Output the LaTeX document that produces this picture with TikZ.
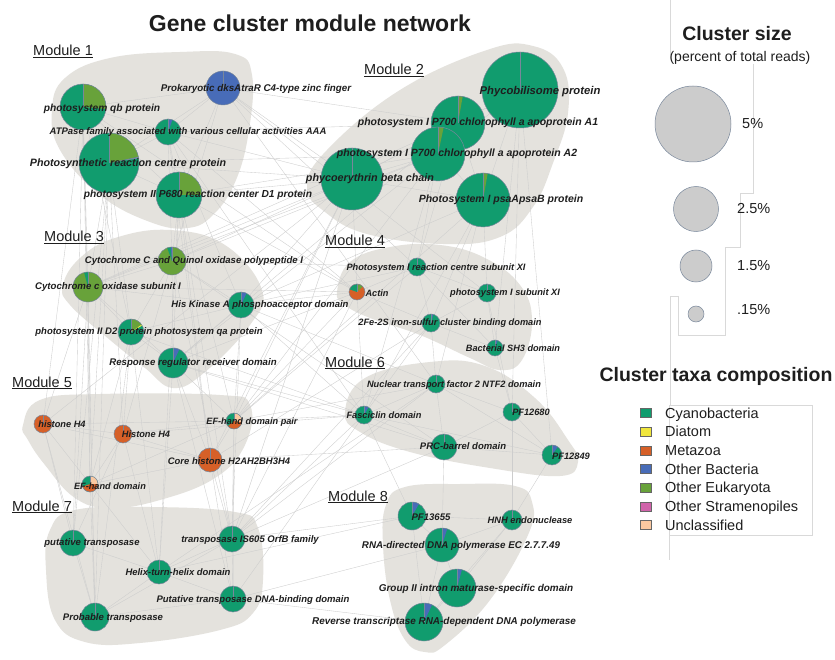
\documentclass[tikz,border=0pt]{standalone}
\usepackage{fontspec}
\setmainfont{Liberation Sans}
\definecolor{cy}{RGB}{17,156,110}
\definecolor{di}{RGB}{240,230,60}
\definecolor{me}{RGB}{214,96,40}
\definecolor{ob}{RGB}{72,108,184}
\definecolor{oe}{RGB}{104,162,58}
\definecolor{os}{RGB}{208,100,170}
\definecolor{un}{RGB}{250,200,160}
\definecolor{blobc}{RGB}{228,226,221}
\definecolor{slate}{RGB}{120,135,155}
\definecolor{edgec}{RGB}{205,205,205}
\definecolor{txt}{RGB}{30,30,30}
\pgfdeclarelayer{blob}
\pgfdeclarelayer{edges}
\pgfdeclarelayer{top}
\pgfsetlayers{blob,edges,main,top}
\tikzset{
  piebase/.style={circle,inner sep=0pt,outer sep=0pt,draw=none},
  pieedge/.style={draw=slate,line width=0.5pt},
  lbl/.style={inner sep=0pt,anchor=base,text=txt},
  netedge/.style={draw=edgec,line width=0.35pt},
  blobfill/.style={fill=blobc},
  modlbl/.style={inner sep=0pt,anchor=base west,text=txt,font=\fontsize{14.5}{16}\selectfont},
  szc/.style={circle,inner sep=0pt,fill=black!20,draw=slate,line width=0.5pt},
  sq/.style={inner sep=0pt,minimum width=11pt,minimum height=9pt,draw=black!60,line width=0.5pt},
  leglbl/.style={inner sep=0pt,anchor=base west,text=txt,font=\fontsize{14.5}{16}\selectfont},
  faint/.style={draw=black!15,line width=0.4pt}
}
\newcommand\pnode[9]{%
  \node[piebase,minimum size=#4*2pt,fill=#5] (#1) at (#2,#3) {};
  \foreach \ps/\pe/\pc in {#6} {\fill[fill=\pc] (#1.center) -- ++({90-\ps}:#4pt) arc[start angle={90-\ps},end angle={90-\pe},radius=#4pt] -- cycle;}
  \draw[pieedge] (#1.center) -- ++(90:#4pt);
  \draw[pieedge] (#1.center) circle[radius=#4pt];
  \pgfmathsetmacro\lblfs{8.6+0.07*#4}
  \begin{pgfonlayer}{top}
  \node[lbl,font=\bfseries\itshape\fontsize{\lblfs}{\lblfs}\selectfont] (#1l) at (#7,{#8+0.36*\lblfs}) {#9};
  \end{pgfonlayer}
}
\begin{document}
\begin{tikzpicture}[x=1pt,y=-1pt]
\useasboundingbox (0,0) rectangle (835,660);
\begin{pgfonlayer}{blob}
\fill[white] (0,0) rectangle (835,660);
% module blobs
\fill[blobfill] plot[smooth cycle,tension=0.7] coordinates {(52,110) (65,78) (110,58) (180,52) (235,54) (252,75) (249,130) (236,180) (214,214) (188,228) (150,222) (100,195) (60,150)};
\fill[blobfill] plot[smooth cycle,tension=0.7] coordinates {(307,187) (327,150) (400,90) (487,50) (533,46) (563,68) (568,113) (553,163) (533,207) (500,237) (443,244) (367,234) (325,212)};
\fill[blobfill] plot[smooth cycle,tension=0.7] coordinates {(63,285) (80,258) (115,238) (170,230) (225,245) (262,290) (250,325) (205,372) (173,388) (145,368) (110,340) (70,305)};
\fill[blobfill] plot[smooth cycle,tension=0.7] coordinates {(337,292) (350,262) (390,247) (440,245) (485,258) (520,285) (532,320) (522,360) (500,370) (470,358) (420,335) (370,318) (345,305)};
\fill[blobfill] plot[smooth cycle,tension=0.7] coordinates {(23,425) (40,400) (100,394) (220,395) (250,405) (245,445) (215,478) (160,500) (110,508) (75,498) (45,465) (28,440)};
\fill[blobfill] plot[smooth cycle,tension=0.7] coordinates {(345,412) (365,378) (430,362) (485,366) (535,398) (568,440) (578,462) (560,476) (490,468) (410,452) (360,432)};
\fill[blobfill] plot[smooth cycle,tension=0.7] coordinates {(50,530) (75,510) (150,507) (235,512) (258,528) (263,580) (253,613) (220,630) (140,643) (85,642) (55,620) (46,570)};
\fill[blobfill] plot[smooth cycle,tension=0.7] coordinates {(386,505) (405,487) (460,484) (515,486) (532,502) (528,535) (490,600) (445,645) (425,652) (405,640) (390,600) (383,545)};
% stray legend frame lines
\draw[faint] (670,0) -- (670,55);
\draw[faint] (753,64) -- (753,193) -- (740,193) -- (740,247) -- (725,247) -- (725,335) -- (678,335) -- (678,296) -- (670,296) -- (670,405);
\draw[faint] (669,405) rectangle (812,535);
\draw[faint] (669,535) -- (669,560);
\end{pgfonlayer}

% title and module labels
\node[inner sep=0pt,anchor=base,text=txt,font=\bfseries\fontsize{23}{26}\selectfont] (title) at (310,32) {Gene cluster module network};
\node[modlbl] (m1) at (33,56) {\underline{Module 1}};
\node[modlbl] (m2) at (364,75) {\underline{Module 2}};
\node[modlbl] (m3) at (44,242) {\underline{Module 3}};
\node[modlbl] (m4) at (325,246) {\underline{Module 4}};
\node[modlbl] (m5) at (12,387) {\underline{Module 5}};
\node[modlbl] (m6) at (325,367) {\underline{Module 6}};
\node[modlbl] (m7) at (12,511) {\underline{Module 7}};
\node[modlbl] (m8) at (328,501) {\underline{Module 8}};

% pie nodes
\pnode{a1}{223}{88}{17}{ob}{0/0/ob}{256}{88}{Prokaryotic dksAtraR C4-type zinc finger}
\pnode{a2}{83}{107}{23}{cy}{0/95/oe}{102}{108}{photosystem qb protein}
\pnode{a3}{168}{132}{13}{cy}{0/20/ob}{188}{131}{ATPase family associated with various cellular activities AAA}
\pnode{a4}{109}{163}{30}{cy}{0/78/oe,78/81/slate}{128}{163}{Photosynthetic reaction centre protein}
\pnode{a5}{179}{195}{23}{cy}{0/90/oe}{198}{194}{photosystem II P680 reaction center D1 protein}
\pnode{b1}{520}{90}{38}{cy}{0/0/cy}{540}{90}{Phycobilisome protein}
\pnode{b2}{458}{123}{27}{cy}{0/10/oe}{478}{122}{photosystem I P700 chlorophyll a apoprotein A1}
\pnode{b3}{438}{154}{27}{cy}{0/12/oe}{457}{153}{photosystem I P700 chlorophyll a apoprotein A2}
\pnode{b4}{352}{179}{31}{cy}{0/0/cy}{370}{178}{phycoerythrin beta chain}
\pnode{b5}{483}{200}{27}{cy}{0/10/oe}{501}{199}{Photosystem I psaApsaB protein}
\pnode{c1}{172}{261}{14}{oe}{340/355/cy,355/360/ob}{194}{260}{Cytochrome C and Quinol oxidase polypeptide I}
\pnode{c2}{88}{287}{15}{oe}{345/360/cy}{108}{286}{Cytochrome c oxidase subunit I}
\pnode{c3}{241}{305}{13}{cy}{0/25/ob}{260}{304}{His Kinase A phosphoacceptor domain}
\pnode{c4}{131}{332}{13}{cy}{0/55/oe,55/60/di}{149}{331}{photosystem II D2 protein photosystem qa protein}
\pnode{c5}{173}{363}{15}{cy}{0/25/ob}{193}{362}{Response regulator receiver domain}
\pnode{d1}{417}{267}{9}{cy}{0/0/cy}{436}{267}{Photosystem I reaction centre subunit XI}
\pnode{d2}{357}{292}{8}{me}{290/360/cy,0/45/oe}{377}{293}{Actin}
\pnode{d3}{487}{293}{9}{cy}{0/0/cy}{505}{292}{photosystem I subunit XI}
\pnode{d4}{431}{323}{9}{cy}{0/15/ob}{450}{322}{2Fe-2S iron-sulfur cluster binding domain}
\pnode{d5}{495}{348}{8}{cy}{0/20/ob}{513}{348}{Bacterial SH3 domain}
\pnode{e1}{43}{424}{9}{me}{0/4/cy}{62}{424}{histone H4}
\pnode{e2}{123}{434}{9}{me}{0/0/me}{146}{434}{Histone H4}
\pnode{e3}{234}{421}{8}{cy}{0/100/un,100/230/me}{252}{421}{EF-hand domain pair}
\pnode{e4}{210}{460}{12}{me}{0/5/cy}{229}{461}{Core histone H2AH2BH3H4}
\pnode{e5}{90}{484}{8}{cy}{0/90/un,90/250/me}{110}{486}{EF-hand domain}
\pnode{f1}{436}{384}{9}{cy}{0/0/cy}{454}{384}{Nuclear transport factor 2 NTF2 domain}
\pnode{f2}{364}{415}{9}{cy}{0/30/ob}{384}{415}{Fasciclin domain}
\pnode{f3}{512}{412}{9}{cy}{0/0/cy}{531}{412}{PF12680}
\pnode{f4}{444}{447}{13}{cy}{0/0/cy}{463}{446}{PRC-barrel domain}
\pnode{f5}{552}{455}{10}{cy}{0/35/ob}{571}{456}{PF12849}
\pnode{g1}{73}{543}{13}{cy}{0/0/cy}{92}{542}{putative transposase}
\pnode{g2}{232}{539}{13}{cy}{0/0/cy}{250}{539}{transposase IS605 OrfB family}
\pnode{g3}{159}{572}{12}{cy}{0/0/cy}{178}{572}{Helix-turn-helix domain}
\pnode{g4}{233}{599}{13}{cy}{0/0/cy}{253}{599}{Putative transposase DNA-binding domain}
\pnode{g5}{95}{617}{14}{cy}{0/0/cy}{113}{617}{Probable transposase}
\pnode{h1}{412}{516}{14}{cy}{0/30/ob}{431}{517}{PF13655}
\pnode{h2}{512}{520}{10}{cy}{0/0/cy}{530}{520}{HNH endonuclease}
\pnode{h3}{442}{545}{17}{cy}{0/18/ob}{461}{545}{RNA-directed DNA polymerase EC 2.7.7.49}
\pnode{h4}{457}{588}{19}{cy}{0/15/ob}{476}{588}{Group II intron maturase-specific domain}
\pnode{h5}{424}{622}{19}{cy}{0/25/ob}{444}{621}{Reverse transcriptase RNA-dependent DNA polymerase}

% network edges
\begin{pgfonlayer}{edges}
\foreach \u/\v in {a1/a2,a1/a3,a1/a4,a1/a5,a2/a3,a2/a4,a2/a5,a3/a4,a3/a5,a4/a5,
  b1/b2,b1/b3,b1/b4,b1/b5,b2/b3,b2/b4,b2/b5,b3/b4,b3/b5,b4/b5,
  c1/c2,c1/c3,c1/c4,c1/c5,c2/c3,c2/c4,c2/c5,c3/c4,c3/c5,c4/c5,
  d1/d2,d1/d3,d1/d4,d2/d4,d3/d4,d3/d5,d4/d5,d1/d5,
  e1/e2,e1/e3,e1/e4,e1/e5,e2/e3,e2/e4,e2/e5,e3/e4,e3/e5,e4/e5,
  f1/f2,f1/f3,f1/f4,f2/f4,f3/f4,f3/f5,f4/f5,f2/f5,f1/f5,
  g1/g3,g1/g5,g2/g3,g2/g4,g3/g4,g3/g5,g4/g5,g2/g5,
  h1/h2,h1/h3,h1/h5,h2/h3,h2/h4,h2/h5,h3/h4,h4/h5,h3/h5,
  a2/e1,a2/g1,a2/e5,a2/c2,a2/c4,a2/g5,
  a4/e5,a4/g5,a4/c4,a4/e2,a4/g1,a4/c2,a4/b3,a4/b4,
  a5/c5,a5/e4,a5/g3,a5/b4,a5/e3,a5/c1,a5/b3,a5/g2,
  a3/c3,a3/d2,a3/b4,a3/e4,a3/b2,a3/c1,
  a1/b4,a1/d1,a1/c1,a1/b2,a1/f1,
  b4/c1,b4/c3,b4/e3,b4/d2,b4/c2,b4/e1,
  b3/c1,b3/c5,b3/c2,b3/d1,b2/c2,b2/d1,
  b5/d3,b5/d4,b5/c3,b5/f1,b1/f5,b1/d5,b1/f3,
  c1/e2,c1/d1,c1/g2,c2/e1,c2/g1,c2/e5,c2/g5,
  c3/d2,c3/f2,c3/g2,c3/e3,c4/e5,c4/g5,c4/e2,c4/g3,
  c5/e4,c5/g3,c5/f2,c5/e3,c5/d2,c5/g4,
  d2/e3,d2/f2,d2/g2,d1/c3,d4/f1,d5/f3,d4/f2,d3/f3,
  e3/f2,e4/f4,e5/g3,e2/g3,e3/g2,e1/g5,e4/g4,e1/g1,e4/g2,e2/g1,e5/g5,e3/g4,
  f2/g2,f4/g2,f2/h1,f4/h3,f5/h2,f1/g3,f3/h2,f2/g4,f1/e3,
  g2/h1,g3/h1,g4/h5,g2/f1,g4/h3,
  b4/e4,b4/g2,b3/e3,b2/c5,b5/f2,b5/e3,a3/f2,c3/f1,c1/f4,c4/f2,
  e2/f2,e4/d4,g2/d4,e3/d1,c5/f4,b3/f2,a5/d2,c2/d2,a1/d3,a2/d2}
  {\draw[netedge] (\u) -- (\v);}
\end{pgfonlayer}

% size legend
\node[inner sep=0pt,anchor=base,text=txt,font=\bfseries\fontsize{19.5}{22}\selectfont] (szt) at (737,41) {Cluster size};
\node[inner sep=0pt,anchor=base,text=txt,font=\fontsize{14}{16}\selectfont] (szs) at (740,62) {(percent of total reads)};
\node[szc,minimum size=76pt] (s1) at (693,124) {};
\node[szc,minimum size=45pt] (s2) at (696,209) {};
\node[szc,minimum size=32pt] (s3) at (696,266) {};
\node[szc,minimum size=16pt] (s4) at (696,314) {};
\node[leglbl] (s1l) at (742,129) {5\%};
\node[leglbl] (s2l) at (737,214) {2.5\%};
\node[leglbl] (s3l) at (737,271) {1.5\%};
\node[leglbl] (s4l) at (737,314) {.15\%};

% taxa legend
\node[inner sep=0pt,anchor=base,text=txt,font=\bfseries\fontsize{19.5}{22}\selectfont] (txt) at (716,381) {Cluster taxa composition};
\foreach \i/\col/\name in {0/cy/Cyanobacteria,1/di/Diatom,2/me/Metazoa,3/ob/Other Bacteria,4/oe/Other Eukaryota,5/os/Other Stramenopiles,6/un/Unclassified}{
  \node[sq,fill=\col] (k\i) at (646,{413+18.67*\i}) {};
  \node[leglbl] (k\i l) at (665,{418.2+18.67*\i}) {\name};
}
\end{tikzpicture}
\end{document}
